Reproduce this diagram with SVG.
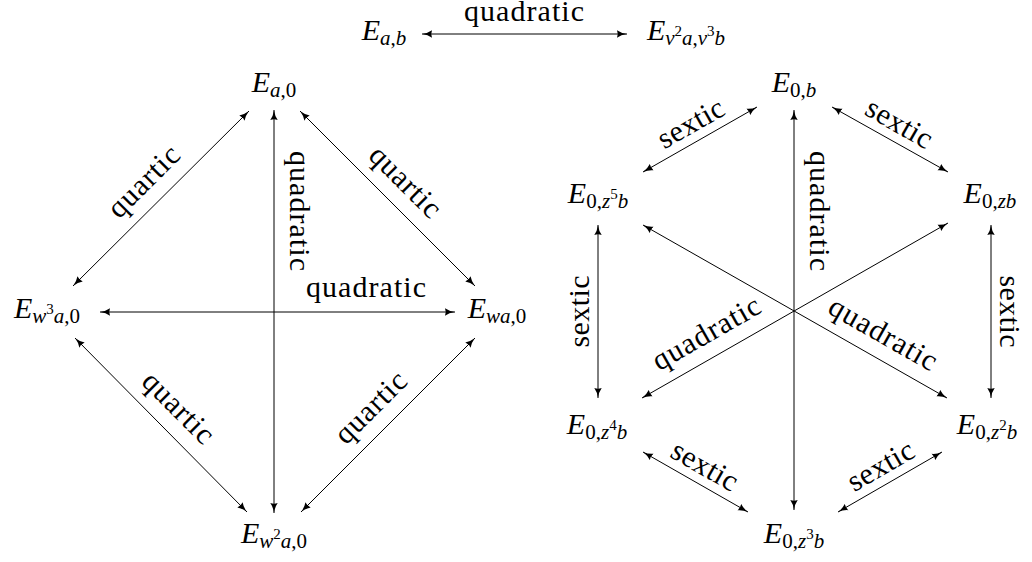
<svg xmlns="http://www.w3.org/2000/svg" width="1032" height="562" viewBox="0 0 1032 562">
<defs>
<marker id="ah" viewBox="0 0 10 8" refX="10" refY="4" markerWidth="10" markerHeight="8" markerUnits="userSpaceOnUse" orient="auto-start-reverse">
<path d="M0,0.3 Q4,3.2 10,4 Q4,4.8 0,7.7 Q1.5,4 0,0.3 z" fill="#000"/>
</marker>
<style>
.ln{stroke:#000;stroke-width:1;fill:none;marker-start:url(#ah);marker-end:url(#ah)}
.lb,.m{font-family:'Liberation Serif',serif;font-size:30px;text-anchor:middle;fill:#000}
.i{font-style:italic}
.s{font-size:21px}
.ss{font-size:15px}
</style>
</defs>
<rect width="1032" height="562" fill="#fff"/>

<g id="connectors">
<line class="ln" x1="422" y1="34" x2="627" y2="34"/>
<line class="ln" x1="274" y1="110" x2="274" y2="513"/>
<line class="ln" x1="100" y1="312" x2="455" y2="312"/>
<line class="ln" x1="249" y1="111" x2="73" y2="286"/>
<line class="ln" x1="300" y1="111" x2="475" y2="286"/>
<line class="ln" x1="75" y1="338" x2="247" y2="512"/>
<line class="ln" x1="475" y1="338" x2="301" y2="512"/>
<line class="ln" x1="794" y1="110" x2="794" y2="510"/>
<line class="ln" x1="757" y1="107" x2="643" y2="172"/>
<line class="ln" x1="832" y1="107" x2="948" y2="172"/>
<line class="ln" x1="598" y1="225" x2="598" y2="398"/>
<line class="ln" x1="991" y1="225" x2="991" y2="398"/>
<line class="ln" x1="643" y1="225" x2="947" y2="398"/>
<line class="ln" x1="642" y1="398" x2="948" y2="223"/>
<line class="ln" x1="643" y1="452" x2="748" y2="512"/>
<line class="ln" x1="942" y1="452" x2="838" y2="512"/>
</g>

<g id="edge-labels">
<text font-family="Liberation Serif" class="lb" transform="translate(524,34)" y="-13" textLength="120" lengthAdjust="spacing">quadratic</text>
<text font-family="Liberation Serif" class="lb" transform="translate(274,211) rotate(90)" y="-16" textLength="120" lengthAdjust="spacing">quadratic</text>
<text font-family="Liberation Serif" class="lb" transform="translate(366,312)" y="-15" textLength="120" lengthAdjust="spacing">quadratic</text>
<text font-family="Liberation Serif" class="lb" transform="translate(161,199) rotate(-45)" y="-15" textLength="89" lengthAdjust="spacing">quartic</text>
<text font-family="Liberation Serif" class="lb" transform="translate(388,199) rotate(45)" y="-15" textLength="89" lengthAdjust="spacing">quartic</text>
<text font-family="Liberation Serif" class="lb" transform="translate(161,425) rotate(45)" y="-15" textLength="89" lengthAdjust="spacing">quartic</text>
<text font-family="Liberation Serif" class="lb" transform="translate(388,425) rotate(-45)" y="-15" textLength="89" lengthAdjust="spacing">quartic</text>
<text font-family="Liberation Serif" class="lb" transform="translate(794,211) rotate(90)" y="-16" textLength="120" lengthAdjust="spacing">quadratic</text>
<text font-family="Liberation Serif" class="lb" transform="translate(700,139.5) rotate(-29.7)" y="-9" textLength="72" lengthAdjust="spacing">sextic</text>
<text font-family="Liberation Serif" class="lb" transform="translate(890,139.5) rotate(29.7)" y="-9" textLength="72" lengthAdjust="spacing">sextic</text>
<text font-family="Liberation Serif" class="lb" transform="translate(598,311.5) rotate(-90)" y="-9" textLength="72" lengthAdjust="spacing">sextic</text>
<text font-family="Liberation Serif" class="lb" transform="translate(991,311.5) rotate(90)" y="-9" textLength="72" lengthAdjust="spacing">sextic</text>
<text font-family="Liberation Serif" class="lb" transform="translate(718.5,354.5) rotate(-29.8)" y="-15" textLength="120" lengthAdjust="spacing">quadratic</text>
<text font-family="Liberation Serif" class="lb" transform="translate(871,355) rotate(29.7)" y="-15" textLength="120" lengthAdjust="spacing">quadratic</text>
<text font-family="Liberation Serif" class="lb" transform="translate(695.5,482) rotate(29.7)" y="-9" textLength="72" lengthAdjust="spacing">sextic</text>
<text font-family="Liberation Serif" class="lb" transform="translate(890,482) rotate(-30)" y="-9" textLength="72" lengthAdjust="spacing">sextic</text>
</g>

<g id="node-Eab"><text font-family="Liberation Serif" class="m" x="384" y="40"><tspan class="i">E</tspan><tspan class="s i" dy="5">a</tspan><tspan class="s">,</tspan><tspan class="s i">b</tspan></text></g>
<g id="node-Ev2a-v3b"><text font-family="Liberation Serif" class="m" x="686" y="40"><tspan class="i">E</tspan><tspan class="s i" dy="5">v</tspan><tspan class="ss" dy="-9">2</tspan><tspan class="s i" dy="9">a</tspan><tspan class="s">,</tspan><tspan class="s i">v</tspan><tspan class="ss" dy="-9">3</tspan><tspan class="s i" dy="9">b</tspan></text></g>

<g id="node-Ea0"><text font-family="Liberation Serif" class="m" x="274" y="92"><tspan class="i">E</tspan><tspan class="s i" dy="5">a</tspan><tspan class="s">,0</tspan></text></g>
<g id="node-Ew3a0"><text font-family="Liberation Serif" class="m" x="47" y="318"><tspan class="i">E</tspan><tspan class="s i" dy="5">w</tspan><tspan class="ss" dy="-9">3</tspan><tspan class="s i" dy="9">a</tspan><tspan class="s">,0</tspan></text></g>
<g id="node-Ewa0"><text font-family="Liberation Serif" class="m" x="497" y="318"><tspan class="i">E</tspan><tspan class="s i" dy="5">wa</tspan><tspan class="s">,0</tspan></text></g>
<g id="node-Ew2a0"><text font-family="Liberation Serif" class="m" x="274" y="543"><tspan class="i">E</tspan><tspan class="s i" dy="5">w</tspan><tspan class="ss" dy="-9">2</tspan><tspan class="s i" dy="9">a</tspan><tspan class="s">,0</tspan></text></g>

<g id="node-E0b"><text font-family="Liberation Serif" class="m" x="794" y="92"><tspan class="i">E</tspan><tspan class="s" dy="5">0,</tspan><tspan class="s i">b</tspan></text></g>
<g id="node-E0z5b"><text font-family="Liberation Serif" class="m" x="598" y="203"><tspan class="i">E</tspan><tspan class="s" dy="5">0,</tspan><tspan class="s i">z</tspan><tspan class="ss" dy="-9">5</tspan><tspan class="s i" dy="9">b</tspan></text></g>
<g id="node-E0zb"><text font-family="Liberation Serif" class="m" x="990" y="203"><tspan class="i">E</tspan><tspan class="s" dy="5">0,</tspan><tspan class="s i">zb</tspan></text></g>
<g id="node-E0z4b"><text font-family="Liberation Serif" class="m" x="597" y="434"><tspan class="i">E</tspan><tspan class="s" dy="5">0,</tspan><tspan class="s i">z</tspan><tspan class="ss" dy="-9">4</tspan><tspan class="s i" dy="9">b</tspan></text></g>
<g id="node-E0z2b"><text font-family="Liberation Serif" class="m" x="987" y="434"><tspan class="i">E</tspan><tspan class="s" dy="5">0,</tspan><tspan class="s i">z</tspan><tspan class="ss" dy="-9">2</tspan><tspan class="s i" dy="9">b</tspan></text></g>
<g id="node-E0z3b"><text font-family="Liberation Serif" class="m" x="794" y="543"><tspan class="i">E</tspan><tspan class="s" dy="5">0,</tspan><tspan class="s i">z</tspan><tspan class="ss" dy="-9">3</tspan><tspan class="s i" dy="9">b</tspan></text></g>
</svg>
